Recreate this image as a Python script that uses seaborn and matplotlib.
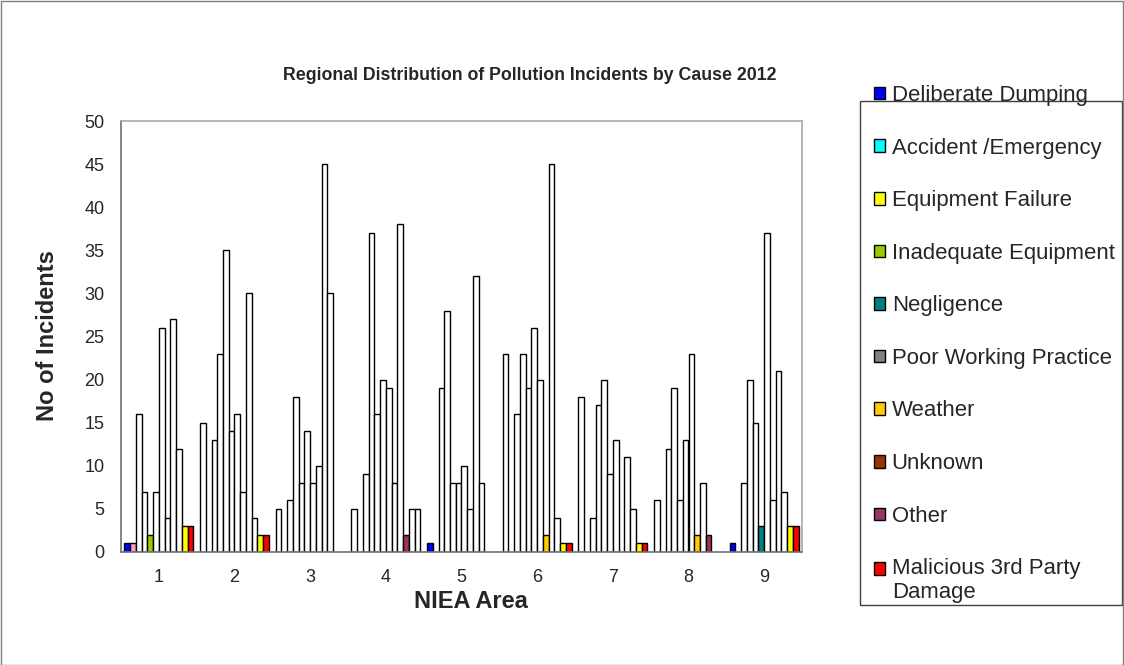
import numpy as np
import pandas as pd
import matplotlib
matplotlib.use("Agg")
import matplotlib.pyplot as plt
import seaborn as sns
from matplotlib.patches import Patch, Rectangle
from matplotlib.legend_handler import HandlerPatch

# ---------------- data ----------------
areas = ["1", "2", "3", "4", "5", "6", "7", "8", "9"]
slots = ["s01", "s02", "s03", "s04", "s05", "s06", "s07", "s08", "s09", "s10", "s11", "s12"]

area_1 = [1, 1, 16, 7, 2, 7, 26, 4, 27, 12, 3, 3]
area_2 = [15, None, 13, 23, 35, 14, 16, 7, 30, 4, 2, 2]
area_3 = [5, None, 6, 18, 8, 14, 8, 10, 45, 30, None, None]
area_4 = [5, None, 9, 37, 16, 20, 19, 8, 38, 2, 5, 5]
area_5 = [1, None, 19, 28, 8, 8, 10, 5, 32, 8, None, None]
area_6 = [23, None, 16, 23, 19, 26, 20, 2, 45, 4, 1, 1]
area_7 = [18, None, 4, 17, 20, 9, 13, None, 11, 5, 1, 1]
area_8 = [6, None, 12, 19, 6, 13, 23, 2, 8, 2, None, None]
area_9 = [1, None, 8, 20, 15, 3, 37, 6, 21, 7, 3, 3]

causes = ["Deliberate Dumping", "Accident /Emergency", "Equipment Failure",
          "Inadequate Equipment", "Negligence", "Poor Working Practice",
          "Weather", "Unknown", "Other", "Malicious 3rd Party\nDamage"]

# ---------------- styles ----------------
cause_colors = ["#0000FF", "#00FFFF", "#FFFF00", "#99CC00", "#008080",
                "#808080", "#FFCC00", "#993300", "#993366", "#FF0000"]
slot_colors = ["#0000FF", "#FF99CC", "white", "white", "#99CC00", "#008080",
               "white", "#FFCC00", "white", "#993366", "#FFFF00", "#FF0000"]

rows = []
for a, vals in zip(areas, [area_1, area_2, area_3, area_4, area_5,
                           area_6, area_7, area_8, area_9]):
    for s, v in zip(slots, vals):
        if v is not None:
            rows.append({"area": a, "slot": s, "value": v})
df = pd.DataFrame(rows)

sns.set_style("white")
plt.rcParams["font.family"] = ["Liberation Sans", "DejaVu Sans"]

W, H = 1124, 665
fig = plt.figure(figsize=(W / 100, H / 100), dpi=100)
fig.patch.set_facecolor("white")

ax = fig.add_axes([121 / W, 1 - 552 / H, 681 / W, 431 / H])
GW = 0.91
sns.barplot(data=df, x="area", y="value", hue="slot", order=areas,
            hue_order=slots, palette=["white"] * 12, width=GW, dodge=True,
            edgecolor="black", linewidth=1.0, saturation=1, errorbar=None,
            legend=False, ax=ax)

bar_w = GW / len(slots)
for p in ax.patches:
    h = p.get_height()
    if not np.isfinite(h):
        continue
    xc = p.get_x() + p.get_width() / 2
    gi = int(round(xc))
    si = int(round((xc - gi + GW / 2) / bar_w - 0.5))
    si = min(max(si, 0), len(slots) - 1)
    p.set_facecolor(slot_colors[si] if h <= 3 else "white")
    p.set_edgecolor("black")

ax.set_xlim(-0.5, 8.5)
ax.set_ylim(0, 50)
ax.set_yticks(range(0, 51, 5))
ax.set_xticks(range(len(areas)))
ax.set_xticklabels(areas)
ax.set_xticks(np.arange(-0.5, len(areas), 1), minor=True)
ax.set_xlabel("")
ax.set_ylabel("")
ax.tick_params(axis="x", which="major", length=0, pad=12, labelsize=13)
ax.tick_params(axis="x", which="minor", length=4, direction="out",
               color="#808080", width=1)
ax.tick_params(axis="y", which="major", length=4, direction="out",
               color="#808080", width=1, pad=8, labelsize=13)
for side in ["left", "bottom"]:
    ax.spines[side].set_color("#707070")
    ax.spines[side].set_linewidth(1.2)
for side in ["top", "right"]:
    ax.spines[side].set_color("#A8A8A8")
    ax.spines[side].set_linewidth(1.2)

# titles
fig.text(530 / W, 1 - 76 / H, "Regional Distribution of Pollution Incidents by Cause 2012",
         ha="center", va="center", fontsize=12.8, fontweight="bold")
fig.text(48 / W, 1 - 336 / H, "No of Incidents", rotation=90,
         ha="center", va="center", fontsize=17, fontweight="bold")
fig.text(471 / W, 1 - 602 / H, "NIEA Area",
         ha="center", va="center", fontsize=17, fontweight="bold")


# legend (marker of the two-line entry aligned with its first line)
def first_line_patch(legend, orig_handle, xdescent, ydescent, width, height, fontsize):
    return Rectangle((-xdescent, -ydescent + 0.56 * fontsize), width, height)


handles = [Patch(facecolor=c, edgecolor="black", linewidth=1.0) for c in cause_colors]
fig.legend(handles, causes, loc="upper left",
           bbox_to_anchor=(874 / W, 1 - 85 / H), bbox_transform=fig.transFigure,
           frameon=False, fontsize=15.9, handlelength=0.5, handleheight=0.5,
           handletextpad=0.3, labelspacing=1.43, borderpad=0, borderaxespad=0,
           handler_map={handles[-1]: HandlerPatch(patch_func=first_line_patch)})
fig.patches.append(Rectangle((860 / W, 1 - 605 / H), (1122 - 860) / W, (605 - 101) / H,
                             transform=fig.transFigure, fill=False,
                             edgecolor="#404040", linewidth=1.0))
# outer border
fig.patches.append(Rectangle((0.5 / W, 0.5 / H), (W - 1.5) / W, (H - 1.5) / H,
                             transform=fig.transFigure, fill=False,
                             edgecolor="#808080", linewidth=1.0))

fig.savefig("out.png", dpi=100, facecolor="white")
